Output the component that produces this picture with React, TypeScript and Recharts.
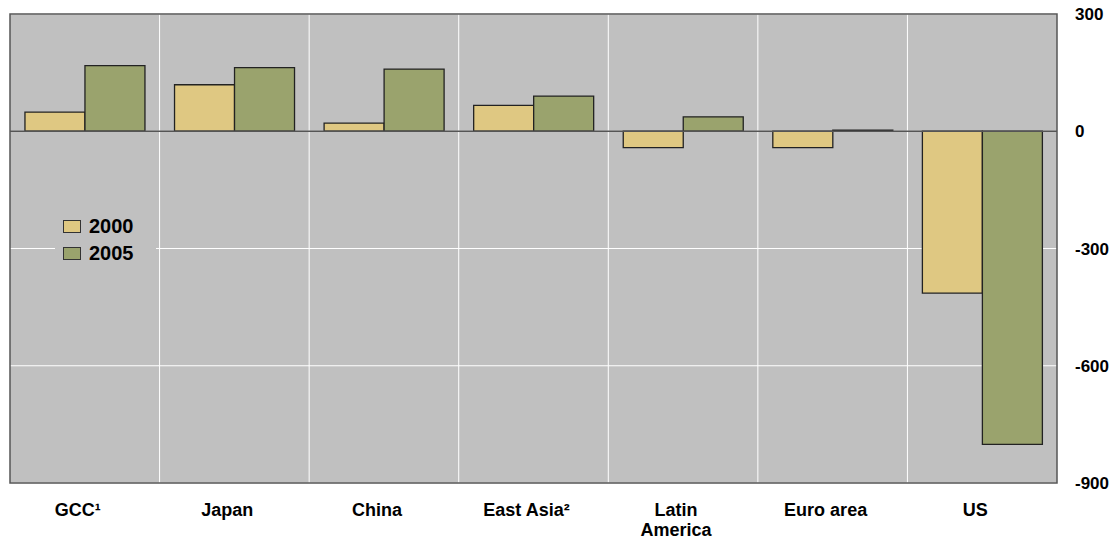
import React from "react";
import {
  BarChart,
  Bar,
  XAxis,
  YAxis,
  CartesianGrid,
  ReferenceLine,
  ReferenceArea,
} from "recharts";

const categories = ["GCC¹", "Japan", "China", "East Asia²", "Latin America", "Euro area", "US"];
const values2000 = [49, 119, 21, 66, -42, -42, -414];
const values2005 = [168, 163, 159, 90, 37, 3, -801];
const yTicks = [300, 0, -300, -600, -900];
const seriesNames = ["2000", "2005"];
const seriesColors = ["#DFC882", "#9AA36D"];

const data = categories.map((c, i) => ({
  name: c,
  v2000: values2000[i],
  v2005: values2005[i],
}));

const FONT = "Arial, 'Liberation Sans', Helvetica, sans-serif";

const XTick = (props: any) => {
  const { x, y, payload } = props;
  const label: string = payload.value;
  const lines = label === "Latin America" ? ["Latin", "America"] : [label];
  const cx = x - 7;
  return (
    <text
      x={cx}
      y={y}
      textAnchor="middle"
      fontFamily={FONT}
      fontWeight="bold"
      fontSize={18}
      fill="#000"
    >
      {lines.map((l, i) => (
        <tspan key={i} x={cx} dy={i === 0 ? 25 : 20}>
          {l}
        </tspan>
      ))}
    </text>
  );
};

const YTick = (props: any) => {
  const { x, y, payload } = props;
  return (
    <text
      x={x}
      y={y}
      dy={6}
      textAnchor="start"
      fontFamily={FONT}
      fontWeight="bold"
      fontSize={17}
      fill="#000"
    >
      {payload.value}
    </text>
  );
};

const LegendBox = () => (
  <div
    style={{
      position: "absolute",
      left: 55,
      top: 211,
      width: 101,
      height: 54,
      background: "#C0C0C0",
      pointerEvents: "none",
    }}
  >
    {seriesNames.map((n, i) => (
      <div
        key={n}
        style={{
          position: "absolute",
          left: 8,
          top: 2 + i * 27,
          height: 27,
          display: "flex",
          alignItems: "center",
        }}
      >
        <div
          style={{
            width: 16,
            height: 11,
            background: seriesColors[i],
            border: "1px solid #333",
            marginRight: 8,
          }}
        />
        <span
          style={{
            fontFamily: FONT,
            fontWeight: "bold",
            fontSize: 20,
            color: "#000",
            lineHeight: "27px",
          }}
        >
          {n}
        </span>
      </div>
    ))}
  </div>
);

export default function App() {
  return (
    <div style={{ position: "absolute", left: 0, top: 0, width: 1119, height: 541, background: "#fff" }}>
      <BarChart
        width={1119}
        height={541}
        data={data}
        margin={{ top: 14, right: 0, bottom: 0, left: 10 }}
        barCategoryGap="10%"
        barGap={0}
      >
        <CartesianGrid
          fill="#C0C0C0"
          stroke="#FFFFFF"
          strokeWidth={1}
          verticalCoordinatesGenerator={(args: any) => {
            const off = args.offset;
            const n = categories.length;
            const pts: number[] = [];
            for (let i = 1; i < n; i++) pts.push(off.left + (i * off.width) / n);
            return pts;
          }}
        />
        <XAxis
          dataKey="name"
          axisLine={false}
          tickLine={false}
          height={58}
          tick={<XTick />}
          interval={0}
        />
        <YAxis
          orientation="right"
          domain={[-900, 300]}
          ticks={yTicks}
          axisLine={false}
          tickLine={false}
          tickSize={0}
          tickMargin={18}
          width={62}
          tick={<YTick />}
          interval={0}
        />
        <Bar dataKey="v2000" fill={seriesColors[0]} stroke="#222" strokeWidth={1.3} isAnimationActive={false} />
        <Bar dataKey="v2005" fill={seriesColors[1]} stroke="#222" strokeWidth={1.3} isAnimationActive={false} />
        <ReferenceLine y={0} stroke="#555" strokeWidth={1.5} />
        <ReferenceArea y1={-900} y2={300} fill="none" stroke="#555" strokeWidth={1.5} ifOverflow="visible" />
      </BarChart>
      <LegendBox />
    </div>
  );
}
